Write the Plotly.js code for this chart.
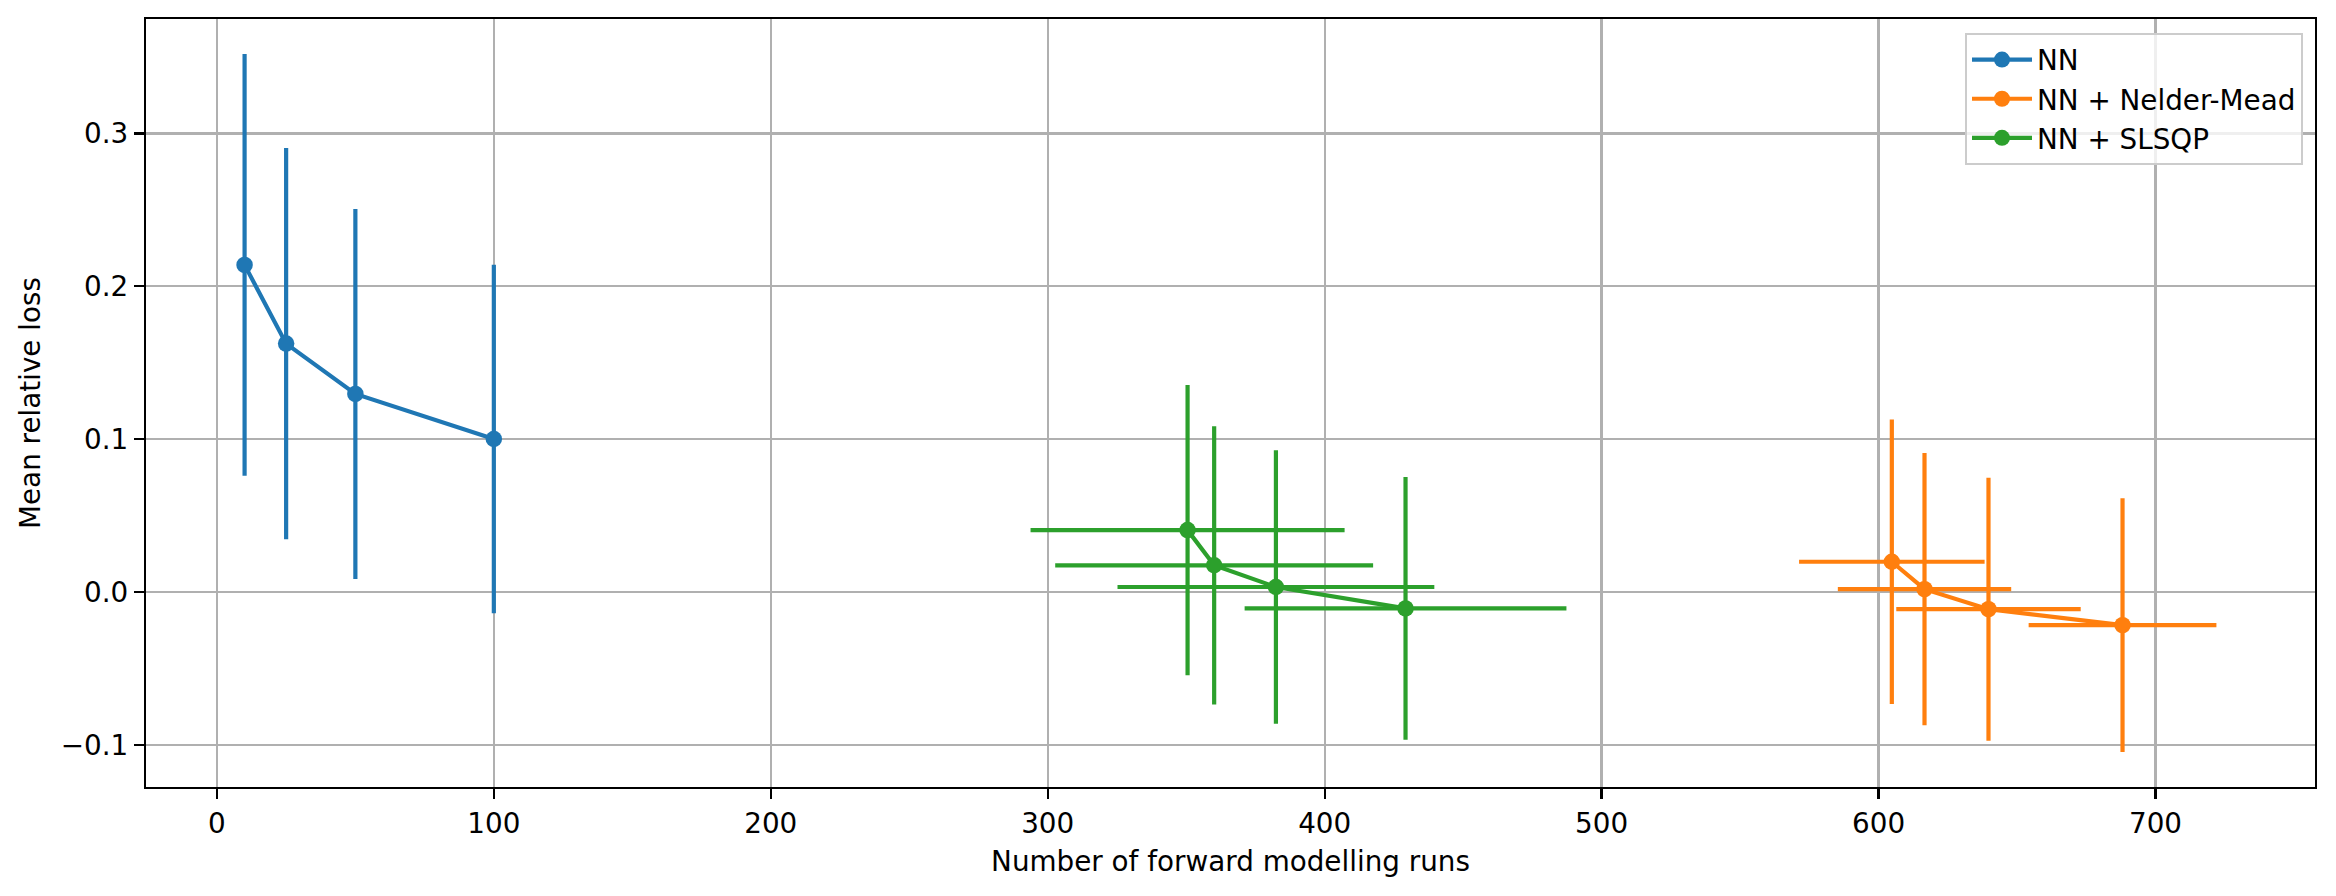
<!DOCTYPE html>
<html>
<head>
<meta charset="utf-8">
<script src="https://cdn.plot.ly/plotly-3.0.1.min.js"></script>
<style>
  html, body { margin: 0; padding: 0; background: #ffffff; }
  #chart { width: 2336px; height: 896px; }
</style>
</head>
<body>
<div id="chart"></div>
<script>
// ---- Data ----
const seriesNames = ["NN", "NN + Nelder-Mead", "NN + SLSQP"];

const nnX    = [10, 25, 50, 100];
const nnY    = [0.214, 0.1625, 0.1296, 0.1001];
const nnYerr = [0.138, 0.128, 0.121, 0.114];

const nmX    = [604.8, 616.6, 639.7, 688.1];
const nmY    = [0.0198, 0.0019, -0.0112, -0.0217];
const nmYerr = [0.093, 0.089, 0.086, 0.083];
const nmXerr = [33.5, 31.3, 33.3, 33.9];

const sqX    = [350.5, 360.1, 382.4, 429.2];
const sqY    = [0.0405, 0.0175, 0.0033, -0.0107];
const sqYerr = [0.095, 0.091, 0.0895, 0.086];
const sqXerr = [56.7, 57.4, 57.2, 58.1];

const xTickVals = [0, 100, 200, 300, 400, 500, 600, 700];
const yTickVals = [-0.1, 0.0, 0.1, 0.2, 0.3];

const xLabel = "Number of forward modelling runs";
const yLabel = "Mean relative loss";

const colors = ["#1f77b4", "#ff7f0e", "#2ca02c"];

// ---- Styling ----
const LW = 4.2;
const MS = 16.5;
const FONT = "DejaVu Sans, sans-serif";
const FS = 27.8;

function trace(name, x, y, yerr, xerr, color) {
  const t = {
    type: "scatter",
    mode: "lines+markers",
    name: name,
    x: x, y: y,
    line: { color: color, width: LW },
    marker: { color: color, size: MS },
    error_y: { type: "data", array: yerr, visible: true, color: color, thickness: LW, width: 0 }
  };
  if (xerr) {
    t.error_x = { type: "data", array: xerr, visible: true, color: color, thickness: LW, width: 0 };
  }
  return t;
}

const data = [
  trace(seriesNames[0], nnX, nnY, nnYerr, null, colors[0]),
  trace(seriesNames[1], nmX, nmY, nmYerr, nmXerr, colors[1]),
  trace(seriesNames[2], sqX, sqY, sqYerr, sqXerr, colors[2])
];

// matplotlib-like autoscale with 5% margins
function extent(vals, errs) {
  let lo = Infinity, hi = -Infinity;
  vals.forEach((v, i) => {
    const e = errs ? errs[i] : 0;
    lo = Math.min(lo, v - e); hi = Math.max(hi, v + e);
  });
  return [lo, hi];
}
const xs = [extent(nnX, null), extent(nmX, nmXerr), extent(sqX, sqXerr)];
const ys = [extent(nnY, nnYerr), extent(nmY, nmYerr), extent(sqY, sqYerr)];
const xmin = Math.min(...xs.map(a => a[0])), xmax = Math.max(...xs.map(a => a[1]));
const ymin = Math.min(...ys.map(a => a[0])), ymax = Math.max(...ys.map(a => a[1]));
const xpad = (xmax - xmin) * 0.05, ypad = (ymax - ymin) * 0.05;

const axisCommon = {
  showline: true, mirror: true, linecolor: "#000000", linewidth: 2.2,
  ticks: "outside", ticklen: 10, tickwidth: 2.2, tickcolor: "#000000",
  showgrid: true, gridcolor: "#b0b0b0", gridwidth: 2.2,
  zeroline: false,
  tickfont: { family: FONT, size: FS, color: "#000000" },
  automargin: false
};

const layout = {
  width: 2336, height: 896,
  paper_bgcolor: "#ffffff", plot_bgcolor: "#ffffff",
  margin: { l: 146, r: 21, t: 19, b: 109 },
  showlegend: true,
  font: { family: FONT, size: FS, color: "#000000" },
  xaxis: Object.assign({}, axisCommon, {
    range: [xmin - xpad, xmax + xpad],
    tickmode: "array", tickvals: xTickVals,
    ticktext: xTickVals.map(v => String(v)),
    title: { text: xLabel, font: { family: FONT, size: FS, color: "#000000" }, standoff: 13 }
  }),
  yaxis: Object.assign({}, axisCommon, {
    range: [ymin - ypad, ymax + ypad],
    tickmode: "array", tickvals: yTickVals,
    ticktext: yTickVals.map(v => (v < 0 ? "\u2212" : "") + Math.abs(v).toFixed(1)),
    title: { text: yLabel, font: { family: FONT, size: FS, color: "#000000" }, standoff: 12 }
  }),
  legend: {
    x: 1 - 12 / 2169, xanchor: "right",
    y: 1 - 14 / 767, yanchor: "top",
    bgcolor: "rgba(255,255,255,0.8)",
    bordercolor: "#cccccc", borderwidth: 2,
    font: { family: FONT, size: FS, color: "#000000" },
    itemwidth: 60,
    tracegroupgap: 0
  }
};

Plotly.newPlot("chart", data, layout, { staticPlot: true, displayModeBar: false });
</script>
</body>
</html>
